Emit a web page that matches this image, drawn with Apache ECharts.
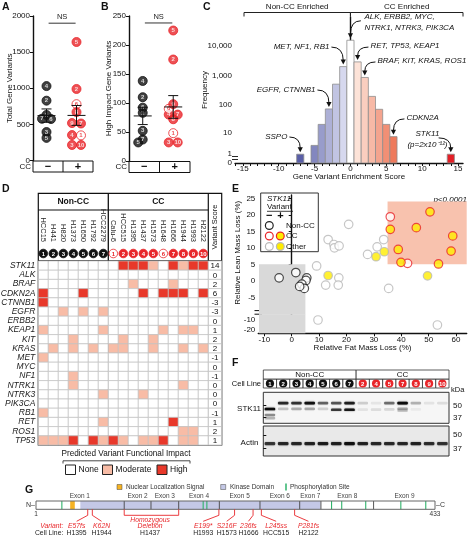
<!DOCTYPE html>
<html>
<head>
<meta charset="utf-8">
<title>STK11 figure</title>
<script src="https://cdn.jsdelivr.net/npm/echarts@6.0.0/dist/echarts.min.js"></script>
<style>
html,body{margin:0;padding:0;background:#fff;}
#chart{width:469px;height:536px;}
</style>
</head>
<body>
<div id="chart"></div>
<script>
// ================= DATA =================
// Panels A/B
const ccLabels = ['\u2212', '+'];
const nonCCIds = ['1','2','3','4','5','6','7'];
const ccIds = ['1','2','3','4','5','6','7','8','9','10'];
const ccOpenIds = ['1','6'];
const aNonCC = [630, 828, 394, 1030, 313, 574, 578];
const aCC = [348, 990, 215, 352, 1640, 780, 512, 670, 518, 215];
const bNonCC = [83, 110, 52, 138, 32, 92, 37];
const bCC = [48, 175, 32, 80, 225, 90, 80, 72, 98, 32];

// Panel C
const cScores = [-7, -5, -4, -3, -2, -1, 0, 1, 2, 3, 4, 5, 6, 14];
const cFrequency = [1, 3, 20, 70, 500, 2000, 16000, 2900, 850, 190, 68, 20, 7, 1];
const cFreqTicks = [0, 1, 10, 100, 1000, 10000, 100000];
const cFreqTickLabels = ['0', '1', '10', '100', '1,000', '10,000', '100,000'];
const cScoreLabelTicks = [-15, -10, -5, 0, 5, 10, 15];
const cAnnotationText = [
  ['ALK, ERBB2, MYC,', 'NTRK1, NTRK3, PIK3CA'],
  ['MET, NF1, RB1'],
  ['RET, TP53, KEAP1'],
  ['BRAF, KIT, KRAS, ROS1'],
  ['EGFR, CTNNB1'],
  ['SSPO'],
  ['CDKN2A'],
  ['STK11', '(p=2x10\u207B\u00B9\u00B2)']
];
const cAnnotationScore = [0, -1, 1, 2, -3, -7, 6, 14];

// Panel D
const dNonCCLines = ['HCC15','H441','H820','H1373','H1650','H1792','HCC2279'];
const dCCLines = ['Calu-6','HCC515','H1395','H1437','H1573','H1648','H1666','H1944','H1993','H2122'];
const dGenes = ['STK11','ALK','BRAF','CDKN2A','CTNNB1','EGFR','ERBB2','KEAP1','KIT','KRAS','MET','MYC','NF1','NTRK1','NTRK3','PIK3CA','RB1','RET','ROS1','TP53'];
const dImpact = [
  [0,0,0,0,0,0,0, 0,2,2,2,1,0,2,1,2,2],
  [0,0,0,0,0,0,0, 0,0,0,0,0,0,0,0,0,0],
  [0,0,0,0,0,0,0, 0,0,1,0,0,0,1,0,0,0],
  [2,0,0,0,2,0,0, 0,0,0,2,0,2,2,2,0,2],
  [2,0,0,0,0,0,0, 0,0,0,0,0,0,0,0,0,0],
  [0,0,1,0,1,0,1, 0,0,0,0,0,0,0,0,0,0],
  [0,0,0,0,0,0,0, 0,0,0,0,0,0,0,0,0,0],
  [1,0,0,0,0,0,1, 0,0,0,0,0,1,0,1,1,0],
  [0,0,0,1,0,0,0, 0,1,0,0,1,0,0,0,0,0],
  [0,1,0,1,0,1,0, 1,1,0,0,1,0,0,1,0,1],
  [1,0,0,0,0,0,0, 0,0,0,0,0,0,0,0,0,0],
  [0,0,0,0,0,0,0, 0,0,0,0,0,0,0,0,0,0],
  [0,0,0,1,0,0,0, 0,0,0,0,0,0,0,0,0,0],
  [0,0,0,1,0,0,0, 0,0,0,0,0,0,0,1,0,0],
  [0,0,0,0,0,0,1, 0,0,0,1,0,0,0,0,0,0],
  [0,0,0,0,0,0,0, 0,0,0,0,0,0,0,0,0,0],
  [1,0,0,0,0,0,0, 0,0,0,0,0,0,0,0,0,0],
  [0,0,0,0,0,0,1, 0,0,0,0,0,0,2,0,0,0],
  [0,0,0,0,0,0,0, 0,0,0,0,0,0,0,1,1,0],
  [1,1,1,2,0,2,1, 2,1,0,1,1,2,0,1,1,0]
];
const dScores = [14,0,2,6,-3,-3,0,1,2,2,-1,0,-1,0,0,0,-1,1,2,1];
const impactLevels = ['None','Moderate','High'];

// Panel E  [relative fat mass loss %, relative lean mass loss %]
const eNonCC = [[-4.6,0.9],[1.5,2.5],[5.5,0.9],[5.2,0.1],[3.7,-1.0],[4.6,-2.3],[2.9,-1.7]];
const eCCWild = [[36,19.4],[42.3,5.3]];
const eCCVariant = [[36,15.6],[45.5,16.1],[50.5,20.9],[58.8,13.6],[38.9,9.5],[58.2,9.0],[39.9,5.6],[53.6,5.1]];
const eOtherWild = [[9.1,4.5],[13.3,12.5],[15.4,11.0],[15.6,10.0],[17.3,10.6],[20.8,17.1],[12.4,-1.3],[17.2,0.9],[17.0,-1.3],[27.7,8.0],[31.2,10.3],[33.6,12.5],[35.4,-2.3],[9.6,-10.7],[53.2,-15.7]];
const eOtherVariant = [[13.3,1.6],[30.8,7.3],[33.8,8.8],[49.6,1.5]];
const eLowCut = 5;          // fat & lean loss threshold of the grey zone
const eHighFatCut = 35;     // fat loss threshold of the salmon zone
const eHighLeanRange = [5, 24];
const eXTicks = [-10,0,10,20,30,40,50,60];
const eYTicksUpper = [-5,0,5,10,15,20,25];
const eYTicksLower = [-20,-10];

// Panel F
const fLaneLabels = ['1','2','3','4','5','6','7','2','4','5','7','8','9','10'];
const fLaneGroup = ['Non-CC','Non-CC','Non-CC','Non-CC','Non-CC','Non-CC','Non-CC','CC','CC','CC','CC','CC','CC','CC'];
const fMarkers = [37, 50];
// [lane, apparent kDa, intensity 0..1]
const fStk11Bands = [
  [1,46.4,1.0],[1,40,0.4],[1,36.6,0.25],
  [2,52.8,0.8],[2,46.6,0.2],
  [3,52.8,0.75],[3,46.6,0.28],
  [4,52.8,0.95],[4,46.6,0.3],
  [5,52.8,0.55],[5,46.6,0.15],
  [6,52.8,0.6],[6,45.6,0.72],
  [7,52.8,0.85],[7,45.6,0.9],
  [8,52.8,0.16],[8,45.8,0.08],
  [9,52.8,0.07],[9,45.8,0.1],
  [10,52.8,0.5],[10,46,0.12],
  [11,52.8,1.0],[11,46.6,0.32],[11,44.6,0.18],
  [12,52.8,0.26],[12,46,0.05],
  [13,52.8,0.08],
  [14,52.8,0.1]
];
const fActinKDa = 41.5;
const fActinIntensity = [0.72,0.8,0.8,0.82,0.86,0.83,0.95,0.82,0.8,0.78,0.8,0.82,0.76,0.74];

// Panel G
const gLength = 433;
const gKinase = [49, 309];
const gNLS = [38, 43];
const gExonStart = [1, 97, 126, 156, 200, 244, 287, 310, 367];
const gExonEnd = [96, 125, 155, 199, 243, 286, 309, 366, 433];
const gPhospho = [29, 182, 186, 321, 332, 358, 396, 423];
const gVariants = ['E57fs','K62N','E199*','S216F','236fs','L245ss','P281fs'];
const gVariantResidue = [57, 62, 199, 216, 236, 245, 281];
const gVariantCellLine = ['H1395','H1944','H1993','H1573','H1666','HCC515','H2122'];
const gDeletion = {exons:[2,3], cellLine:'H1437'};

// ================= LAYOUT / STYLE =================
const FONT = 'Liberation Sans, Arial, Helvetica, sans-serif';
const RED = '#e8262a';
const YEL = '#ffec00';
const GREY_EDGE = '#b8b8b8';
const cAnnoLayout = [
  {at:[1.95,5.0], align:'left', from:[1.45,4.87]},
  {at:[-2.93,3.97], align:'right', from:[-2.65,3.97]},
  {at:[2.79,4.0], align:'left', from:[2.51,3.97]},
  {at:[3.77,3.49], align:'left', from:[3.49,3.46]},
  {at:[-4.88,2.5], align:'right', from:[-4.6,2.5]},
  {at:[-8.79,0.89], align:'right', from:[-8.51,0.89]},
  {at:[7.81,1.54], align:'left', from:[7.53,1.51]},
  {at:[10.74,0.99], align:'center', from:[12.3,0.86]}
];
const gVariantLabelAt = [45, 72, 182, 207.5, 231, 261, 296];
const gDeletionLabelAt = 124.5;

const GR = {
  A:{left:33, top:16, width:60, height:144.5},
  B:{left:129, top:16, width:61, height:145},
  C:{left:235, top:17, width:228, height:146},
  D:{left:38.3, top:261, width:170, height:184},
  DS:{left:208.3, top:261, width:13.4, height:184},
  EU:{left:258.3, top:195, width:208.4, height:115.5},
  EL:{left:258.3, top:314.3, width:208.4, height:19},
  FH:{left:263.3, top:370, width:185.7, height:18},
  FS:{left:263.3, top:392.3, width:185.7, height:31},
  FA:{left:263.3, top:426, width:185.7, height:30},
  GP:{left:36, top:501, width:399, height:8.3}
};
const gridKeys = ['A','B','C','D','DS','EU','EL','FH','FS','FA','GP'];
const gi = k => gridKeys.indexOf(k);

function hexToRgb(h){h=h.replace('#','');return [0,2,4].map(i=>parseInt(h.substr(i,2),16));}
function mix(a,b,t){const A=hexToRgb(a),B=hexToRgb(b);return 'rgb('+A.map((v,i)=>Math.round(v+(B[i]-v)*t)).join(',')+')';}
function cBarColor(s){
  if(s===0) return '#ffffff';
  if(s<0) return mix('#d6d8ee','#5a5fa7',Math.min(1,(-s-1)/6));
  if(s<=6) return mix('#fde3d8','#ee7a5c',(s-1)/5);
  return '#e41f26';
}
const impactColor = ['#ffffff','#f8bca6','#e8382a'];

// ---------- swarm layout for A/B ----------
function swarmX(values, center, grid, yMax, xSpan){
  const pyu = grid.height / yMax, pxu = grid.width / xSpan;
  const d = 9, minDist = d*0.58;
  const order = values.map((v,i)=>i).sort((a,b)=>values[b]-values[a] || a-b);
  const placed = []; const xs = new Array(values.length);
  let k = 0;
  while(k < order.length){
    const grp=[order[k]]; let j=k+1;
    while(j<order.length && (values[order[k]]-values[order[j]])*pyu < 1.5){grp.push(order[j]); j++;}
    if(grp.length>1){
      grp.forEach((idx,g)=>{const off=(g-(grp.length-1)/2)*d; xs[idx]=off; placed.push([off,values[idx]*pyu]);});
    } else {
      const idx=grp[0], y=values[idx]*pyu;
      const cands=[0,-d/2,d/2,-d,d,-1.5*d,1.5*d,-2*d,2*d];
      let off=cands[cands.length-1];
      for(const c of cands){ if(placed.every(p=>Math.hypot(p[0]-c,p[1]-y)>=minDist)){off=c;break;} }
      xs[idx]=off; placed.push([off,y]);
    }
    k=j;
  }
  return xs.map(o=>center+o/pxu);
}
function meanSem(v){const n=v.length;const m=v.reduce((a,b)=>a+b,0)/n;const sd=Math.sqrt(v.reduce((a,b)=>a+(b-m)*(b-m),0)/(n-1));return [m,sd/Math.sqrt(n)];}

const groupCenter = [0.45, 1.45];
function pointSeries(key, nonVals, ccVals, yMax){
  const g = GR[key];
  const xn = swarmX(nonVals, groupCenter[0], g, yMax, 2);
  const xc = swarmX(ccVals, groupCenter[1], g, yMax, 2);
  const data = [];
  nonVals.forEach((v,i)=>data.push({name:nonCCIds[i], value:[xn[i],v], itemStyle:{color:'#111',borderColor:'#111',borderWidth:1}, label:{color:'#fff'}}));
  ccVals.forEach((v,i)=>{const open=ccOpenIds.includes(ccIds[i]);
    data.push({name:ccIds[i], value:[xc[i],v], itemStyle:{color:open?'#fff':RED,borderColor:RED,borderWidth:1}, label:{color:open?RED:'#fff'}});});
  return {type:'scatter', xAxisIndex:gi(key), yAxisIndex:gi(key), symbolSize:9, silent:true, z:3, data,
    label:{show:true, position:'inside', formatter:p=>p.name, fontSize:6, fontWeight:'bold', fontFamily:FONT}};
}
function errSeries(key, nonVals, ccVals){
  const d=[[groupCenter[0],...meanSem(nonVals)],[groupCenter[1],...meanSem(ccVals)]];
  return {type:'custom', xAxisIndex:gi(key), yAxisIndex:gi(key), silent:true, z:5, clip:false, data:d,
    renderItem:(p,api)=>{const c=api.value(0),m=api.value(1),s=api.value(2);
      const pm=api.coord([c,m]), pt=api.coord([c,m+s]), pb=api.coord([c,m-s]);
      const st={stroke:'#111',lineWidth:1};
      return {type:'group',children:[
        {type:'line',shape:{x1:pm[0]-9,y1:pm[1],x2:pm[0]+9,y2:pm[1]},style:st},
        {type:'line',shape:{x1:pt[0],y1:pt[1],x2:pb[0],y2:pb[1]},style:st},
        {type:'line',shape:{x1:pt[0]-5,y1:pt[1],x2:pt[0]+5,y2:pt[1]},style:st},
        {type:'line',shape:{x1:pb[0]-5,y1:pb[1],x2:pb[0]+5,y2:pb[1]},style:st}]};}};
}
function nsSeries(key, yv){
  return {type:'custom', xAxisIndex:gi(key), yAxisIndex:gi(key), silent:true, clip:false, data:[[0.52,1.42,yv]],
    renderItem:(p,api)=>{const a=api.coord([api.value(0),api.value(2)]), b=api.coord([api.value(1),api.value(2)]);
      return {type:'group',children:[
        {type:'line',shape:{x1:a[0],y1:a[1],x2:b[0],y2:b[1]},style:{stroke:'#555',lineWidth:1.2}},
        {type:'text',style:{text:'NS',x:(a[0]+b[0])/2,y:a[1]-2,align:'center',verticalAlign:'bottom',fill:'#222',fontSize:7.5,fontFamily:FONT}}]};}};
}

// ---------- axes ----------
const blackLine = {show:true, lineStyle:{color:'#111', width:1.4}};
const tick = {show:true, length:3, lineStyle:{color:'#111', width:1}};
const lab = {fontSize:8, color:'#111', margin:3, fontFamily:FONT};
const nameStyle = {fontSize:8, color:'#111', fontFamily:FONT};
const hidden = (k,min,max)=>({gridIndex:gi(k), type:'value', min, max, show:false});
const cLog = v=>Math.log10(v+1);

const xAxes = [
  hidden('A',0,2),
  hidden('B',0,2),
  {gridIndex:gi('C'), type:'value', min:-16.1, max:15.7, axisLine:blackLine,
   axisTick:{...tick, customValues:Array.from({length:32},(_,i)=>i-16)},
   axisLabel:{...lab, margin:2, customValues:cScoreLabelTicks}, splitLine:{show:false},
   name:'Gene Variant Enrichment Score', nameLocation:'middle', nameGap:10, nameMoveOverlap:false, nameTextStyle:nameStyle},
  {gridIndex:gi('D'), type:'category', data:dNonCCLines.concat(dCCLines), position:'top',
   axisLine:{show:false}, axisTick:{show:false}, splitLine:{show:false},
   axisLabel:{interval:0, rotate:90, fontSize:7.5, color:'#222', margin:19, fontFamily:FONT}},
  {gridIndex:gi('DS'), type:'category', data:['Variant Score'], show:false},
  hidden('EU',-12.2,63.9),
  {gridIndex:gi('EL'), type:'value', min:-12.2, max:63.9, axisLine:blackLine,
   axisTick:{...tick, customValues:eXTicks}, axisLabel:{...lab, margin:2, customValues:eXTicks}, splitLine:{show:false},
   name:'Relative Fat Mass Loss (%)', nameLocation:'middle', nameGap:10, nameMoveOverlap:false, nameTextStyle:nameStyle},
  hidden('FH',0,14), hidden('FS',0,14), hidden('FA',0,14),
  hidden('GP',1,gLength)
];
const yAxes = [
  {gridIndex:gi('A'), type:'value', min:0, max:2000, interval:500, axisLine:blackLine, axisTick:tick, axisLabel:{...lab, formatter:v=>String(v)}, splitLine:{show:false},
   name:'Total Gene Variants', nameLocation:'middle', nameGap:19, nameMoveOverlap:false, nameTextStyle:nameStyle},
  {gridIndex:gi('B'), type:'value', min:0, max:250, interval:50, axisLine:blackLine, axisTick:tick, axisLabel:{...lab, formatter:v=>String(v)}, splitLine:{show:false},
   name:'High Impact Gene Variants', nameLocation:'middle', nameGap:16, nameMoveOverlap:false, nameTextStyle:nameStyle},
  {gridIndex:gi('C'), type:'value', min:0, max:5, axisLine:blackLine,
   axisTick:{...tick, customValues:cFreqTicks.map(cLog)},
   axisLabel:{...lab, customValues:cFreqTicks.map(cLog), formatter:v=>{const i=cFreqTicks.findIndex(t=>Math.abs(cLog(t)-v)<1e-6);return i<0?'':cFreqTickLabels[i];}},
   splitLine:{show:false}, name:'Frequency', nameLocation:'middle', nameGap:26, nameMoveOverlap:false, nameTextStyle:nameStyle},
  {gridIndex:gi('D'), type:'category', data:dGenes, inverse:true, axisLine:{show:false}, axisTick:{show:false}, splitLine:{show:false},
   axisLabel:{interval:0, fontSize:8.5, fontStyle:'italic', color:'#222', margin:3, fontFamily:FONT}},
  {gridIndex:gi('DS'), type:'category', data:dGenes, inverse:true, show:false},
  {gridIndex:gi('EU'), type:'value', min:-9, max:26, axisLine:blackLine,
   axisTick:{...tick, customValues:eYTicksUpper}, axisLabel:{...lab, customValues:eYTicksUpper}, splitLine:{show:false},
   name:'Relative Lean Mass Loss (%)', nameLocation:'middle', nameGap:17, nameMoveOverlap:false, nameTextStyle:nameStyle},
  {gridIndex:gi('EL'), type:'value', min:-24, max:-5, axisLine:blackLine,
   axisTick:{...tick, customValues:eYTicksLower}, axisLabel:{...lab, customValues:eYTicksLower}, splitLine:{show:false}},
  hidden('FH',0,2),
  {gridIndex:gi('FS'), type:'value', position:'right', min:31, max:64.5, axisLine:{show:false},
   axisTick:{...tick, customValues:fMarkers}, axisLabel:{...lab, margin:4, customValues:fMarkers}, splitLine:{show:false}},
  {gridIndex:gi('FA'), type:'value', position:'right', min:29.5, max:58.8, axisLine:{show:false},
   axisTick:{...tick, customValues:fMarkers}, axisLabel:{...lab, margin:4, customValues:fMarkers}, splitLine:{show:false}},
  hidden('GP',0,1)
];

const grids = gridKeys.map(k=>{
  const g = {...GR[k], containLabel:false, outerBoundsMode:'none'};
  if(k==='FS'){Object.assign(g,{show:true, backgroundColor:'#f6f6f6', borderColor:'#333', borderWidth:1});}
  if(k==='FA'){Object.assign(g,{show:true, backgroundColor:'#e9e9e9', borderColor:'#333', borderWidth:1});}
  return g;
});

const series = [];
// ---- A & B ----
series.push(pointSeries('A', aNonCC, aCC, 2000), errSeries('A', aNonCC, aCC), nsSeries('A', 1900));
series.push(pointSeries('B', bNonCC, bCC, 250), errSeries('B', bNonCC, bCC), nsSeries('B', 238));

// ---- C bars ----
series.push({type:'custom', xAxisIndex:gi('C'), yAxisIndex:gi('C'), silent:true, z:2,
  data:cScores.map((s,i)=>[s,cLog(cFrequency[i])]),
  renderItem:(p,api)=>{const s=api.value(0), v=api.value(1);
    const a=api.coord([s-0.5,v]), b=api.coord([s+0.5,0]);
    return {type:'rect', shape:{x:a[0],y:a[1],width:b[0]-a[0],height:b[1]-a[1]}, style:{fill:cBarColor(s), stroke:'#8e8e8e', lineWidth:0.8}};}});
// ---- C annotations ----
series.push({type:'custom', xAxisIndex:gi('C'), yAxisIndex:gi('C'), silent:true, z:4, clip:false,
  data:cAnnotationScore.map((s,i)=>[s, cLog(cFrequency[cScores.indexOf(s)])]),
  renderItem:(p,api)=>{const i=p.dataIndex, L=cAnnoLayout[i];
    const tgt=api.coord([api.value(0),api.value(1)]);
    const ex=tgt[0], ey=tgt[1]-2;
    const st=api.coord(L.from), tp=api.coord(L.at);
    const kids=[];
    cAnnotationText[i].forEach((t,j)=>kids.push({type:'text',style:{text:t,x:tp[0],y:tp[1]+j*10.5,align:L.align,verticalAlign:'middle',fill:'#111',fontSize:8,fontStyle:'italic',fontFamily:FONT}}));
    kids.push({type:'bezierCurve',shape:{x1:st[0],y1:st[1],x2:ex,y2:ey-4,cpx1:ex,cpy1:st[1]},style:{stroke:'#111',lineWidth:1,fill:'none'}});
    kids.push({type:'polygon',shape:{points:[[ex-2.6,ey-5],[ex+2.6,ey-5],[ex,ey]]},style:{fill:'#111'}});
    return {type:'group',children:kids};}});
// ---- C top brackets ----
series.push({type:'custom', xAxisIndex:gi('C'), yAxisIndex:gi('C'), silent:true, clip:false,
  data:[[-16.1,0],[0,15.7]],
  renderItem:(p,api)=>{const a=api.coord([api.value(0),5]), b=api.coord([api.value(1),5]);
    const y=a[1]-4.5, t=['Non-CC Enriched','CC Enriched'][p.dataIndex];
    const xa=a[0]+(p.dataIndex===0?9:0), xb=b[0];
    return {type:'group',children:[
      {type:'polyline',shape:{points:[[xa,y+4],[xa,y],[xb,y],[xb,y+4]]},style:{stroke:'#222',lineWidth:1,fill:'none'}},
      {type:'text',style:{text:t,x:(xa+xb)/2,y:y-2,align:'center',verticalAlign:'bottom',fill:'#111',fontSize:8,fontFamily:FONT}}]};}});

// ---- D cells ----
const dCellData=[];
dImpact.forEach((row,r)=>row.forEach((v,c)=>dCellData.push([c,r,v])));
series.push({type:'custom', xAxisIndex:gi('D'), yAxisIndex:gi('D'), silent:true, z:2, data:dCellData,
  renderItem:(p,api)=>{const c=api.coord([api.value(0),api.value(1)]), sz=api.size([1,1]);
    return {type:'rect',shape:{x:c[0]-sz[0]/2,y:c[1]-sz[1]/2,width:sz[0],height:sz[1]},style:{fill:impactColor[api.value(2)],stroke:'#c2c2c2',lineWidth:0.7}};}});
// score column
series.push({type:'custom', xAxisIndex:gi('DS'), yAxisIndex:gi('DS'), silent:true, z:2, data:dScores.map((s,r)=>[0,r,s]),
  renderItem:(p,api)=>{const c=api.coord([0,api.value(1)]), sz=api.size([1,1]);
    return {type:'group',children:[
      {type:'rect',shape:{x:c[0]-sz[0]/2,y:c[1]-sz[1]/2,width:sz[0],height:sz[1]},style:{fill:'#fff',stroke:'#c2c2c2',lineWidth:0.7}},
      {type:'text',style:{text:String(api.value(2)),x:c[0],y:c[1]+0.5,align:'center',verticalAlign:'middle',fill:'#111',fontSize:8,fontFamily:FONT}}]};}});
// circles row
const dAllIds = nonCCIds.concat(ccIds);
series.push({type:'custom', xAxisIndex:gi('D'), yAxisIndex:gi('D'), silent:true, clip:false, z:4, data:dAllIds.map((_,i)=>[i,0]),
  renderItem:(p,api)=>{const i=p.dataIndex; const c=api.coord([i,0]); const rh=api.size([0,1])[1];
    const y=c[1]-rh/2-7.5; const cc=i>=nonCCIds.length; const open=cc&&ccOpenIds.includes(dAllIds[i]);
    return {type:'group',children:[
      {type:'circle',shape:{cx:c[0],cy:y,r:4.3},style:{fill:open?'#fff':(cc?RED:'#111'),stroke:cc?RED:'#111',lineWidth:0.8}},
      {type:'text',style:{text:dAllIds[i],x:c[0],y:y+0.4,align:'center',verticalAlign:'middle',fill:open?RED:'#fff',fontSize:6,fontWeight:'bold',fontFamily:FONT}}]};}});

// ---- E regions ----
series.push({type:'custom', xAxisIndex:gi('EU'), yAxisIndex:gi('EU'), silent:true, z:1, clip:false, data:[[0],[1]],
  renderItem:(p,api)=>{
    if(p.dataIndex===0){const a=api.coord([-12.2,eLowCut]), b=api.coord([eLowCut,-9]);
      return {type:'rect',shape:{x:a[0]+0.7,y:a[1],width:b[0]-a[0]-0.7,height:b[1]-a[1]+4},style:{fill:'#d9d9d9'}};}
    const a=api.coord([eHighFatCut,eHighLeanRange[1]]), b=api.coord([63.9,eHighLeanRange[0]]);
    return {type:'rect',shape:{x:a[0],y:a[1],width:b[0]-a[0],height:b[1]-a[1]},style:{fill:'#f8c2ae'}};}});
series.push({type:'custom', xAxisIndex:gi('EL'), yAxisIndex:gi('EL'), silent:true, z:1, data:[[0]],
  renderItem:(p,api)=>{const a=api.coord([-12.2,-5]), b=api.coord([eLowCut,-24]);
    return {type:'rect',shape:{x:a[0]+0.7,y:a[1],width:b[0]-a[0]-0.7,height:b[1]-a[1]},style:{fill:'#d9d9d9'}};}});
function eScatter(pts, fill, edge){
  const up=pts.filter(p=>p[1]>=-9), lo=pts.filter(p=>p[1]<-9);
  const base={type:'scatter', symbolSize:8.5, silent:true, z:3, itemStyle:{color:fill, borderColor:edge, borderWidth:1.2}};
  return [{...base, xAxisIndex:gi('EU'), yAxisIndex:gi('EU'), data:up},{...base, xAxisIndex:gi('EL'), yAxisIndex:gi('EL'), data:lo}];
}
series.push(...eScatter(eOtherWild,'#fff',GREY_EDGE), ...eScatter(eOtherVariant,YEL,GREY_EDGE),
  ...eScatter(eNonCC,'#fff','#222'), ...eScatter(eCCWild,'#fff',RED), ...eScatter(eCCVariant,YEL,RED));

// ---- F header ----
series.push({type:'custom', xAxisIndex:gi('FH'), yAxisIndex:gi('FH'), silent:true, clip:false, data:fLaneLabels.map((_,i)=>[i]),
  renderItem:(p,api)=>{const i=p.dataIndex; const tl=api.coord([i,1]), br=api.coord([i+1,0]);
    const cx=(tl[0]+br[0])/2, cy=(tl[1]+br[1])/2; const cc=fLaneGroup[i]==='CC';
    return {type:'group',children:[
      {type:'rect',shape:{x:tl[0],y:tl[1],width:br[0]-tl[0],height:br[1]-tl[1]},style:{fill:'#fff',stroke:'#333',lineWidth:0.8}},
      {type:'circle',shape:{cx,cy,r:4.1},style:{fill:cc?RED:'#111'}},
      {type:'text',style:{text:fLaneLabels[i],x:cx,y:cy+0.4,align:'center',verticalAlign:'middle',fill:'#fff',fontSize:6,fontWeight:'bold',fontFamily:FONT}}]};}});
const fGroups=[...new Set(fLaneGroup)].map(g=>[fLaneGroup.indexOf(g), fLaneGroup.lastIndexOf(g)+1]);
series.push({type:'custom', xAxisIndex:gi('FH'), yAxisIndex:gi('FH'), silent:true, clip:false, data:fGroups,
  renderItem:(p,api)=>{const tl=api.coord([api.value(0),2]), br=api.coord([api.value(1),1]);
    return {type:'group',children:[
      {type:'rect',shape:{x:tl[0],y:tl[1],width:br[0]-tl[0],height:br[1]-tl[1]},style:{fill:'#fff',stroke:'#333',lineWidth:0.8}},
      {type:'text',style:{text:fLaneGroup[api.value(0)],x:(tl[0]+br[0])/2,y:(tl[1]+br[1])/2+0.5,align:'center',verticalAlign:'middle',fill:'#111',fontSize:8,fontFamily:FONT}}]};}});
// ---- F bands ----
function bandItem(api, lane, kda, t, h){
  const c=api.coord([lane-0.5,kda]); const w=api.size([1,0])[0]*0.8;
  return {type:'rect',shape:{x:c[0]-w/2,y:c[1]-h/2,width:w,height:h,r:1.2},style:{fill:'rgba(12,12,12,'+t.toFixed(3)+')',shadowBlur:1.6,shadowColor:'rgba(12,12,12,'+(t*0.8).toFixed(3)+')'}};
}
series.push({type:'custom', xAxisIndex:gi('FS'), yAxisIndex:gi('FS'), silent:true, data:fStk11Bands,
  renderItem:(p,api)=>bandItem(api, api.value(0), api.value(1), api.value(2), 2.6)});
series.push({type:'custom', xAxisIndex:gi('FA'), yAxisIndex:gi('FA'), silent:true, data:fActinIntensity.map((t,i)=>[i+1,fActinKDa,t]),
  renderItem:(p,api)=>bandItem(api, api.value(0), api.value(1), api.value(2), 3.2)});

// ---- G protein map ----
series.push({type:'custom', xAxisIndex:gi('GP'), yAxisIndex:gi('GP'), silent:true, clip:false, z:2, data:[[1,gLength]],
  renderItem:(p,api)=>{
    const kids=[]; const X=r=>api.coord([r,0])[0]; const top=api.coord([1,1])[1], bot=api.coord([1,0])[1];
    kids.push({type:'rect',shape:{x:X(1),y:top,width:X(gLength)-X(1),height:bot-top},style:{fill:'#fff'}});
    kids.push({type:'rect',shape:{x:X(gKinase[0]),y:top,width:X(gKinase[1])-X(gKinase[0]),height:bot-top},style:{fill:'#c4c8e6'}});
    kids.push({type:'rect',shape:{x:X(gNLS[0]),y:top,width:X(gNLS[1])-X(gNLS[0]),height:bot-top},style:{fill:'#f6b323'}});
    gPhospho.forEach(r=>kids.push({type:'line',shape:{x1:X(r),y1:top,x2:X(r),y2:bot},style:{stroke:'#2fb36b',lineWidth:1.1}}));
    gExonEnd.slice(0,-1).forEach(r=>kids.push({type:'line',shape:{x1:X(r+0.5),y1:top,x2:X(r+0.5),y2:bot},style:{stroke:'#444',lineWidth:0.9}}));
    kids.push({type:'rect',shape:{x:X(1),y:top,width:X(gLength)-X(1),height:bot-top},style:{fill:'none',stroke:'#666',lineWidth:1}});
    gExonStart.forEach((s,i)=>kids.push({type:'text',style:{text:'Exon '+(i+1),x:X((s+gExonEnd[i])/2),y:top-1,align:'center',verticalAlign:'bottom',fill:'#444',fontSize:6.5,fontFamily:FONT}}));
    const ts={fontSize:7,fontFamily:FONT,fill:'#333',verticalAlign:'middle'};
    kids.push({type:'text',style:{...ts,text:'N\u2013',x:X(1)-1,y:(top+bot)/2,align:'right'}});
    kids.push({type:'text',style:{...ts,text:'\u2013C',x:X(gLength)+1,y:(top+bot)/2,align:'left'}});
    kids.push({type:'text',style:{...ts,fontSize:6.5,text:'1',x:X(1),y:bot+5,align:'center'}});
    kids.push({type:'text',style:{...ts,fontSize:6.5,text:String(gLength),x:X(gLength),y:bot+5,align:'center'}});
    return {type:'group',children:kids};}});
series.push({type:'custom', xAxisIndex:gi('GP'), yAxisIndex:gi('GP'), silent:true, clip:false, z:3, data:gVariantResidue.map(r=>[r,0]),
  renderItem:(p,api)=>{const i=p.dataIndex; const b=api.coord([api.value(0),0]); const xl=api.coord([gVariantLabelAt[i],0])[0];
    return {type:'group',children:[
      {type:'polyline',shape:{points:[[b[0],b[1]],[b[0],b[1]+6],[xl,b[1]+12]]},style:{stroke:RED,lineWidth:0.9,fill:'none'}},
      {type:'text',style:{text:gVariants[i],x:xl,y:b[1]+16.8,align:'center',verticalAlign:'middle',fill:RED,fontSize:6.8,fontStyle:'italic',fontFamily:FONT}},
      {type:'text',style:{text:gVariantCellLine[i],x:xl,y:b[1]+24,align:'center',verticalAlign:'middle',fill:'#222',fontSize:6.8,fontFamily:FONT}}]};}});
series.push({type:'custom', xAxisIndex:gi('GP'), yAxisIndex:gi('GP'), silent:true, clip:false, z:3,
  data:[[gExonStart[gDeletion.exons[0]-1]-0.5, gExonEnd[gDeletion.exons[1]-1]+0.5]],
  renderItem:(p,api)=>{const a=api.coord([api.value(0),0]), b=api.coord([api.value(1),0]); const xl=api.coord([gDeletionLabelAt,0])[0];
    const y=a[1]+6;
    const st={align:'center',verticalAlign:'middle',fill:RED,fontSize:6.8,fontStyle:'italic',fontFamily:FONT};
    return {type:'group',children:[
      {type:'polyline',shape:{points:[[a[0],a[1]],[a[0],y],[b[0],y],[b[0],b[1]]]},style:{stroke:RED,lineWidth:0.9,fill:'none'}},
      {type:'text',style:{...st,text:'Homozygous',x:xl,y:a[1]+10.8}},
      {type:'text',style:{...st,text:'Deletion',x:xl,y:a[1]+17.2}},
      {type:'text',style:{text:gDeletion.cellLine,x:xl,y:a[1]+24,align:'center',verticalAlign:'middle',fill:'#222',fontSize:6.8,fontFamily:FONT}}]};}});

// ================= GRAPHIC DECORATIONS =================
const gfx=[];
const T=(text,x,y,o={})=>gfx.push({type:'text',x,y,rotation:o.rot||0,silent:true,style:{text,x:0,y:0,align:o.align||'left',verticalAlign:o.va||'middle',fill:o.fill||'#111',fontSize:o.size||8,fontWeight:o.weight||'normal',fontStyle:o.style||'normal',fontFamily:FONT}});
const Ln=(x1,y1,x2,y2,o={})=>gfx.push({type:'line',silent:true,shape:{x1,y1,x2,y2},style:{stroke:o.c||'#111',lineWidth:o.w||1}});
const Rc=(x,y,w,h,o={})=>gfx.push({type:'rect',silent:true,shape:{x,y,width:w,height:h},style:{fill:o.fill||'none',stroke:o.stroke||'#111',lineWidth:o.w||1}});
const Ci=(cx,cy,r,fill,stroke)=>gfx.push({type:'circle',silent:true,shape:{cx,cy,r},style:{fill,stroke,lineWidth:1.2}});
// panel letters
[['A',2,7],['B',101,7],['C',203,7],['D',2,189],['E',232,189],['F',232,363],['G',25,490]].forEach(a=>T(a[0],a[1],a[2],{weight:'bold',size:10.5}));
// CC boxes under A & B
[['A'],['B']].forEach(([k])=>{const g=GR[k]; const y0=g.top+g.height+0.5, h=11;
  Rc(g.left,y0,g.width,h,{w:1}); Ln(g.left+g.width/2,y0,g.left+g.width/2,y0+h);
  ccLabels.forEach((t,i)=>T(t,g.left+g.width*(i+0.5)/2,y0+h/2,{align:'center',size:11,weight:'bold'}));
  T('CC',g.left-2,y0+h/2,{align:'right',size:8});});
// C axis break
Rc(232.5,156.5,5,3,{fill:'#fff',stroke:'#fff',w:0.1}); Ln(232,156.5,238,156.5,{w:0.9}); Ln(232,159.5,238,159.5,{w:0.9});
// D frame
const dL=38.3, dMid=108.3, dR=208.3, dRR=221.7, dT=193.3, dB=445, dH=210, dG=261;
Rc(dL,dT,dRR-dL,dB-dT,{w:1.2}); Ln(dL,dH,dR,dH,{w:1.2}); Ln(dMid,dT,dMid,dB,{w:1.3}); Ln(dR,dT,dR,dB,{w:1.2}); Ln(dL,dG,dRR,dG,{w:1.3});
T('Non-CC',(dL+dMid)/2,201.8,{align:'center',weight:'bold',size:8.5}); T('CC',(dMid+dR)/2,201.8,{align:'center',weight:'bold',size:8.5});
T('Variant Score',(dR+dRR)/2,227,{align:'center',rot:Math.PI/2,size:7.5});
// D legend
T('Predicted Variant Functional Impact',126,454,{align:'center',size:8.2});
gfx.push({type:'polyline',silent:true,shape:{points:[[63,463.5],[63,460.8],[190,460.8],[190,463.5]]},style:{stroke:'#333',lineWidth:0.9,fill:'none'}});
const legX=[65.5,102.5,157];
impactLevels.forEach((t,i)=>{Rc(legX[i],465,10,9.5,{fill:impactColor[i],stroke:'#222',w:1}); T(t,legX[i]+13,470,{size:8.5});});
// E axis break & legend
Rc(255,310.6,7,3.6,{fill:'#fff',stroke:'#fff',w:0.1}); Ln(254.5,310.6,262,310.6,{w:1}); Ln(254.5,314.2,262,314.2,{w:1});
T('p<0.0001',467,199.5,{align:'right',style:'italic',size:8});
Rc(260.7,193,57.6,58.7,{w:1,stroke:'#333'});
T('STK11',267,199,{style:'italic',size:8}); T('Variant',267,207,{size:8}); Ln(267,211.3,293,211.3,{w:0.8});
T('\u2212',269.3,216.2,{align:'center',size:11,weight:'bold'}); T('+',280.5,216.2,{align:'center',size:11,weight:'bold'});
Ci(269.3,225.5,3.9,'#fff','#222'); T('Non-CC',286,225.5,{size:8});
Ci(269.3,236,3.9,'#fff',RED); Ci(280.3,236,3.9,YEL,RED); T('CC',286,236,{size:8});
Ci(269.3,246.5,3.9,'#fff',GREY_EDGE); Ci(280.3,246.5,3.9,YEL,GREY_EDGE); T('Other',286,246.5,{size:8});
// F labels
T('Cell Line',261,383.6,{align:'right',size:7.5}); T('STK11',249,409,{align:'center',size:8}); T('Actin',249.5,443,{align:'center',size:8});
T('kDa',451,389.8,{size:7.5});
// G legend & labels
Rc(117,484.5,5,5,{fill:'#f6b323',stroke:'#444',w:0.5}); T('Nuclear Localization Signal',126,487,{size:6.5,fill:'#333'});
Rc(220.7,484.5,5,5,{fill:'#c4c8e6',stroke:'#444',w:0.5}); T('Kinase Domain',230,487,{size:6.5,fill:'#333'});
Ln(286,483.6,286,490.4,{c:'#2fb36b',w:1.5}); T('Phosphorylation Site',290,487,{size:6.5,fill:'#333'});
T('Variant:',63.3,526,{align:'right',size:6.8,style:'italic',fill:RED}); T('Cell Line:',63.3,533.3,{align:'right',size:6.8,fill:'#222'});

const option = {
  animation:false, backgroundColor:'#fff', textStyle:{fontFamily:FONT},
  grid:grids, xAxis:xAxes, yAxis:yAxes, series, graphic:{elements:gfx}
};
const chart = echarts.init(document.getElementById('chart'), null, {renderer:'canvas', width:469, height:536});
chart.setOption(option);
</script>
</body>
</html>
